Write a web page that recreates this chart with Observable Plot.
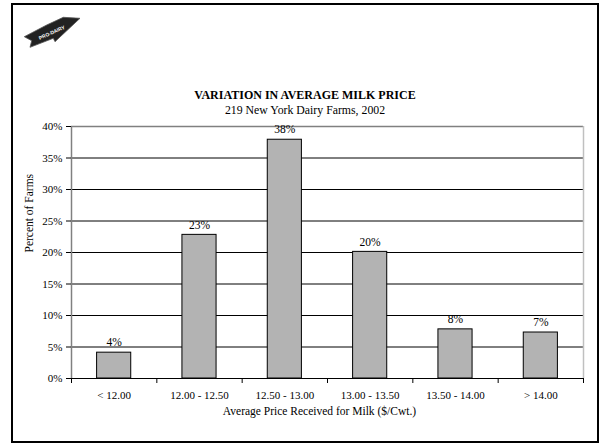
<!DOCTYPE html>
<html>
<head>
<meta charset="utf-8">
<script src="https://cdn.jsdelivr.net/npm/d3@7"></script>
<script src="https://cdn.jsdelivr.net/npm/@observablehq/plot@0.6"></script>
<style>
  html, body { margin: 0; padding: 0; background: #fff; }
  #page { position: relative; width: 602px; height: 444px; overflow: hidden; font-family: "Liberation Serif", "Times New Roman", serif; }
  #frame { position: absolute; left: 11px; top: 3px; width: 588px; height: 440px; box-sizing: border-box; border: 2px solid #000; }
  #chart { position: absolute; left: 0; top: 0; }
  .ttl { position: absolute; left: 11px; width: 588px; text-align: center; color: #000; white-space: nowrap; }
  #title { top: 88px; font-size: 12px; font-weight: bold; }
  #subtitle { top: 103px; font-size: 11.8px; }
  #logo { position: absolute; left: 0; top: 0; }
</style>
</head>
<body>
<div id="page">
  <div id="frame"></div>
  <svg id="logo" width="100" height="60">
    <polygon points="24.3,36.7 31.7,40.7 30,47.3 53.3,38.3 55,41.7 80,18.3 63.3,17.3 46.7,25" fill="#222" stroke="#555" stroke-width="0.8"/>
    <text x="0" y="0" transform="translate(52,33) rotate(-24)" text-anchor="middle" dominant-baseline="middle" fill="#fff" font-family="Liberation Sans, Arial, sans-serif" font-weight="bold" font-size="5px">PRO-DAIRY</text>
  </svg>
  <div id="chart"></div>
  <div id="title" class="ttl">VARIATION IN AVERAGE MILK PRICE</div>
  <div id="subtitle" class="ttl">219 New York Dairy Farms, 2002</div>
</div>
<script>
// Data
const categories = ["< 12.00", "12.00 - 12.50", "12.50 - 13.00", "13.00 - 13.50", "13.50 - 14.00", "> 14.00"];
const percents = [4.1, 22.8, 37.9, 20.1, 7.8, 7.3];
const yTicks = [0, 5, 10, 15, 20, 25, 30, 35, 40];
const xBoundaries = [0, 1, 2, 3, 4, 5, 6];
const xLabelPositions = [0.5, 1.5, 2.5, 3.5, 4.5, 5.5];

const table = categories.map((c, i) => ({cat: c, i, value: percents[i]}));

const chart = Plot.plot({
  width: 602,
  height: 444,
  marginLeft: 71,
  marginRight: 19,
  marginTop: 126,
  marginBottom: 66,
  style: {fontFamily: "'Liberation Serif', 'Times New Roman', serif", fontSize: "11px", color: "#000", background: "transparent"},
  x: {domain: [0, 6], axis: null},
  y: {domain: [0, 40], axis: null},
  marks: [
    Plot.ruleY(yTicks.filter(t => t > 0 && t < 40), {stroke: "#000", strokeWidth: 1}),
    Plot.ruleY([40], {stroke: "#808080", strokeWidth: 1.5}),
    Plot.ruleX([6], {stroke: "#c0c0c0", strokeWidth: 1.5}),
    Plot.rectY(table, {x1: "i", x2: d => d.i + 1, y: "value", fill: "#b3b3b3", stroke: "#000", strokeWidth: 1, insetLeft: 25.6, insetRight: 25.6}),
    Plot.text(table, {x: d => d.i + 0.5, y: "value", text: d => Math.round(d.value) + "%", dy: -10, fontSize: 11.5, fill: "#000"}),
    Plot.ruleX([0], {stroke: "#808080", strokeWidth: 1.5}),
    Plot.ruleY([0], {stroke: "#000", strokeWidth: 1}),
    Plot.axisY({ticks: yTicks, tickFormat: d => d + "%", tickSize: 5, tickPadding: 4, label: null, stroke: "#000", fontSize: 11}),
    Plot.axisX({ticks: xBoundaries, tickSize: 5, tickFormat: () => "", label: null, stroke: "#000"}),
    Plot.axisX({ticks: xLabelPositions, tickSize: 0, tickPadding: 13, tickFormat: t => categories[Math.floor(t)], label: null, fontSize: 11}),
    Plot.text(["Percent of Farms"], {frameAnchor: "left", rotate: -90, dx: -42, text: d => d, fontSize: 11.5, fill: "#000"}),
    Plot.text(["Average Price Received for Milk ($/Cwt.)"], {frameAnchor: "bottom", dy: 36, dx: -8, text: d => d, fontSize: 11.5, fill: "#000"})
  ]
});
document.getElementById("chart").appendChild(chart);
</script>
</body>
</html>
